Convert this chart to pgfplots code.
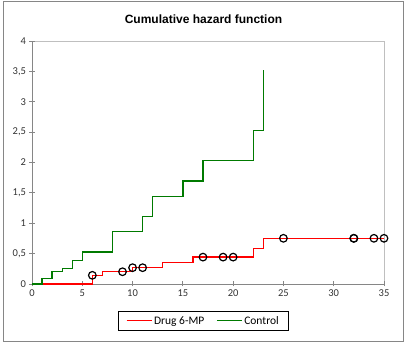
\documentclass[border=0pt]{standalone}
\usepackage{pgfplots}
\pgfplotsset{compat=1.18}
\usepackage{fontspec}
\setmainfont{Carlito}
\newfontfamily\titlefont{Liberation Sans}
\definecolor{cgreen}{HTML}{007A00}
\definecolor{axgray}{HTML}{868686}
\definecolor{frgray}{HTML}{BFBFBF}
\begin{document}
\begin{tikzpicture}[x=1pt,y=1pt]
\useasboundingbox (0,0) rectangle (407,345);
\draw[axgray, line width=0.9pt] (3.5,4) rectangle (403,344);
\node[font=\titlefont\fontsize{12}{14}\selectfont\bfseries] at (203.5,326) {Cumulative hazard function};
\begin{axis}[
  scale only axis,
  width=352pt, height=243pt,
  at={(32pt,61pt)}, anchor=south west,
  xmin=0, xmax=35, ymin=0, ymax=4,
  xtick={0,5,...,35},
  ytick={0,0.5,...,4},
  /pgf/number format/use comma,
  /pgf/number format/assume math mode=true,
  yticklabel style={/pgf/number format/fixed, /pgf/number format/precision=1},
  tick label style={font=\fontsize{10.5}{12}\selectfont, color=black!80},
  axis background/.style={draw=frgray, line width=0.8pt},
  axis x line*=bottom, axis y line*=left,
  axis line style={-, axgray, line width=0.8pt},
  tick style={axgray, line width=0.8pt},
  tick align=center, major tick length=5pt,
  legend style={at={(0.487,-0.152)}, anchor=center, draw=black, line width=0.8pt,
    font=\fontsize{11.5}{13}\selectfont, legend columns=2,
    /tikz/every even column/.append style={column sep=10pt},
    inner xsep=8pt, inner ysep=3pt},
  clip=false,
]
\addplot[const plot, red, line width=1.3pt, legend image code/.code={\draw[red, line width=1pt] (0pt,0pt) -- (25pt,0pt);}] coordinates {
(0,0) (6,0.1429) (7,0.2017) (10,0.2684) (13,0.3517) (16,0.4426) (22,0.5855) (23,0.7522) (35,0.7522)};
\addlegendentry{Drug 6-MP}
\addplot[const plot, cgreen, line width=1.3pt, legend image code/.code={\draw[cgreen, line width=1pt] (0pt,0pt) -- (25pt,0pt);}] coordinates {
(0,0) (1,0.0952) (2,0.2005) (3,0.2593) (4,0.3843) (5,0.5272) (8,0.8605) (11,1.1105) (12,1.4438) (15,1.6938) (17,2.0272) (22,2.5272) (23,3.5272)};
\addlegendentry{Control}
\addplot[only marks, mark=o, mark size=3.8pt, mark options={draw=black, fill=white, line width=1.2pt, solid}, forget plot] coordinates {
(6,0.1429) (9,0.2017) (10,0.2684) (11,0.2684) (17,0.4426) (19,0.4426) (20,0.4426) (25,0.7522) (32,0.7522) (32,0.7522) (34,0.7522) (35,0.7522)};
\end{axis}
\end{tikzpicture}
\end{document}
